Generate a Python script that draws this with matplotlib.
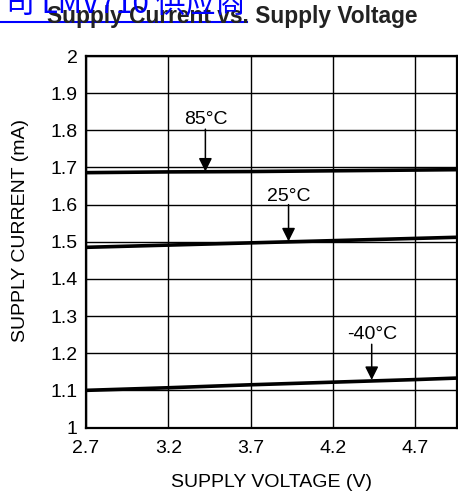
import matplotlib
matplotlib.use("Agg")
import matplotlib.pyplot as plt
from matplotlib.lines import Line2D

plt.rcParams['font.family'] = ['Liberation Sans', 'DejaVu Sans']

voltage = [2.7, 3.2, 3.7, 4.2, 4.7, 4.95]
i_85 = [1.686, 1.688, 1.689, 1.691, 1.693, 1.694]
i_25 = [1.485, 1.491, 1.497, 1.503, 1.509, 1.512]
i_m40 = [1.100, 1.107, 1.115, 1.122, 1.129, 1.133]

xticks = [2.7, 3.2, 3.7, 4.2, 4.7]
xticklabels = ["2.7", "3.2", "3.7", "4.2", "4.7"]
yticks = [1.0, 1.1, 1.2, 1.3, 1.4, 1.5, 1.6, 1.7, 1.8, 1.9, 2.0]
yticklabels = ["1", "1.1", "1.2", "1.3", "1.4", "1.5", "1.6", "1.7", "1.8", "1.9", "2"]

labels = ["85°C", "25°C", "-40°C"]
label_x = [3.425, 3.93, 4.435]
label_text_y = [1.830, 1.623, 1.249]
arrow_start_y = [1.803, 1.600, 1.224]
arrow_end_y = [1.689, 1.501, 1.128]

W, H = 458, 495
fig = plt.figure(figsize=(W / 100, H / 100), dpi=100)
left, right, top, bottom = 86, 457, 56, 427.5
ax = fig.add_axes([left / W, 1 - bottom / H, (right - left) / W, (bottom - top) / H])

FS = 14
ax.set_xlim(2.7, 4.953)
ax.set_ylim(1.0, 2.0)
ax.set_xticks(xticks)
ax.set_xticklabels(xticklabels)
ax.set_yticks(yticks)
ax.set_yticklabels(yticklabels)
ax.tick_params(length=0, labelsize=FS, colors='black')
ax.tick_params(axis='y', pad=6)
ax.tick_params(axis='x', pad=9)
ax.grid(True, color='black', linewidth=1.0)
ax.set_axisbelow(True)
for s in ax.spines.values():
    s.set_linewidth(1.6)
    s.set_color('black')

for ys in (i_85, i_25, i_m40):
    ax.plot(voltage, ys, color='black', linewidth=2.6, solid_capstyle='butt')

for lab, x, ty, sy, ey in zip(labels, label_x, label_text_y, arrow_start_y, arrow_end_y):
    ax.text(x, ty, lab, ha='center', va='center', fontsize=FS)
    ax.annotate('', xy=(x, ey), xytext=(x, sy),
                arrowprops=dict(arrowstyle='-|>,head_length=0.8,head_width=0.4',
                                color='black', lw=1.1, shrinkA=0, shrinkB=0))

ax.set_xlabel("SUPPLY VOLTAGE (V)", fontsize=FS, labelpad=12)
ax.set_ylabel("SUPPLY CURRENT (mA)", fontsize=FS)
ax.yaxis.set_label_coords((29 - left) / (right - left), (bottom - 230) / (bottom - top))

fig.text(232 / W, 1 - 16 / H, "Supply Current vs. Supply Voltage", ha='center', va='center',
         fontsize=16.4, fontweight='bold', color='#222222')

fig.text(245 / W, 1 - 12 / H, "司 LMV710 供应商", ha='right', va='baseline', fontsize=21.5,
         color='#0000ff', family=['Noto Sans CJK SC', 'DejaVu Sans'])
fig.add_artist(Line2D([0, 247 / W], [1 - 22 / H, 1 - 22 / H], color='#0000ff', linewidth=1.5,
                      transform=fig.transFigure))

fig.savefig("out.png", dpi=100)
